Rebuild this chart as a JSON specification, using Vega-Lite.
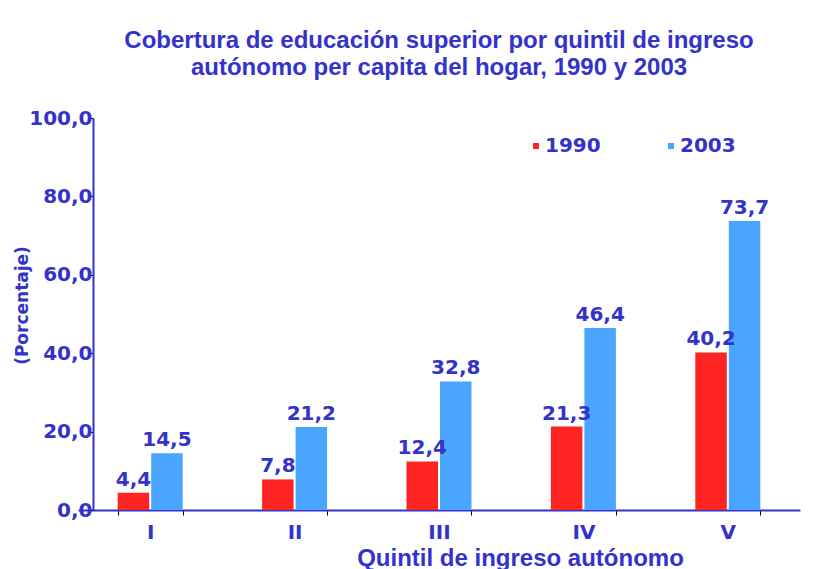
{
  "$schema": "https://vega.github.io/schema/vega-lite/v6.json",
  "width": 722,
  "height": 392,
  "autosize": "none",
  "padding": {"left": 78, "top": 118, "right": 35, "bottom": 59},
  "background": "white",
  "config": {
    "locale": {"number": {"decimal": ",", "thousands": ".", "grouping": [3], "currency": ["$", ""]}},
    "view": {"stroke": null}
  },
  "title": {
    "text": ["Cobertura de educación superior por quintil de ingreso", "autónomo per capita del hogar, 1990 y 2003"],
    "font": "Liberation Sans",
    "fontSize": 24,
    "fontWeight": "bold",
    "color": "#3333CC",
    "lineHeight": 27,
    "anchor": "middle",
    "offset": 28
  },
  "data": {
    "values": [
      {"quintil": "I", "year": "1990", "value": 4.4},
      {"quintil": "I", "year": "2003", "value": 14.5},
      {"quintil": "II", "year": "1990", "value": 7.8},
      {"quintil": "II", "year": "2003", "value": 21.2},
      {"quintil": "III", "year": "1990", "value": 12.4},
      {"quintil": "III", "year": "2003", "value": 32.8},
      {"quintil": "IV", "year": "1990", "value": 21.3},
      {"quintil": "IV", "year": "2003", "value": 46.4},
      {"quintil": "V", "year": "1990", "value": 40.2},
      {"quintil": "V", "year": "2003", "value": 73.7}
    ]
  },
  "encoding": {
    "x": {
      "field": "quintil",
      "type": "nominal",
      "sort": ["I", "II", "III", "IV", "V"],
      "scale": {"paddingInner": 0.55, "paddingOuter": 0.275},
      "title": "Quintil de ingreso autónomo",
      "axis": {
        "labelAngle": 0,
        "labelFont": "DejaVu Sans",
        "labelFontSize": 20,
        "labelFontWeight": "bold",
        "labelColor": "#3333CC",
        "labelPadding": 7,
        "domainColor": "#3333CC",
        "domainWidth": 2,
        "tickColor": "black",
        "tickSize": 5,
        "tickBand": "extent",
        "tickOffset": 15,
        "titleFont": "Liberation Sans",
        "titleFontSize": 24,
        "titleFontWeight": "bold",
        "titleColor": "#3333CC",
        "titleX": 442,
        "titleY": 55,
        "titleAlign": "center",
        "titleBaseline": "alphabetic"
      }
    },
    "xOffset": {"field": "year", "type": "nominal", "scale": {"paddingInner": 0.06}},
    "y": {
      "field": "value",
      "type": "quantitative",
      "scale": {"domain": [0, 100]},
      "title": "(Porcentaje)",
      "axis": {
        "values": [0, 20, 40, 60, 80, 100],
        "format": ".1f",
        "grid": false,
        "offset": -15,
        "domainColor": "#3333CC",
        "domainWidth": 2,
        "tickColor": "black",
        "tickSize": 5,
        "labelPadding": -4,
        "labelFont": "DejaVu Sans",
        "labelFontSize": 20,
        "labelFontWeight": "bold",
        "labelColor": "#3333CC",
        "titleFont": "DejaVu Sans",
        "titleFontSize": 17,
        "titleFontWeight": "bold",
        "titleColor": "#3333CC",
        "titleAngle": -90,
        "titleX": -71,
        "titleY": 187,
        "titleAlign": "center",
        "titleBaseline": "middle"
      }
    }
  },
  "layer": [
    {
      "mark": {"type": "bar"},
      "encoding": {
        "color": {
          "field": "year",
          "type": "nominal",
          "scale": {"domain": ["1990", "2003"], "range": ["#FF2424", "#4AA5FF"]},
          "legend": {
            "title": null,
            "orient": "none",
            "legendX": 448,
            "legendY": 18,
            "direction": "horizontal",
            "symbolType": "square",
            "symbolSize": 36,
            "symbolStrokeWidth": 0,
            "labelFont": "DejaVu Sans",
            "labelFontSize": 20,
            "labelFontWeight": "bold",
            "labelColor": "#3333CC",
            "labelOffset": -1,
            "columnPadding": 60
          }
        }
      }
    },
    {
      "mark": {
        "type": "text",
        "baseline": "bottom",
        "dy": -3,
        "font": "DejaVu Sans",
        "fontSize": 20,
        "fontWeight": "bold",
        "color": "#3333CC"
      },
      "encoding": {
        "text": {"field": "value", "type": "quantitative", "format": ".1f"}
      }
    }
  ]
}
